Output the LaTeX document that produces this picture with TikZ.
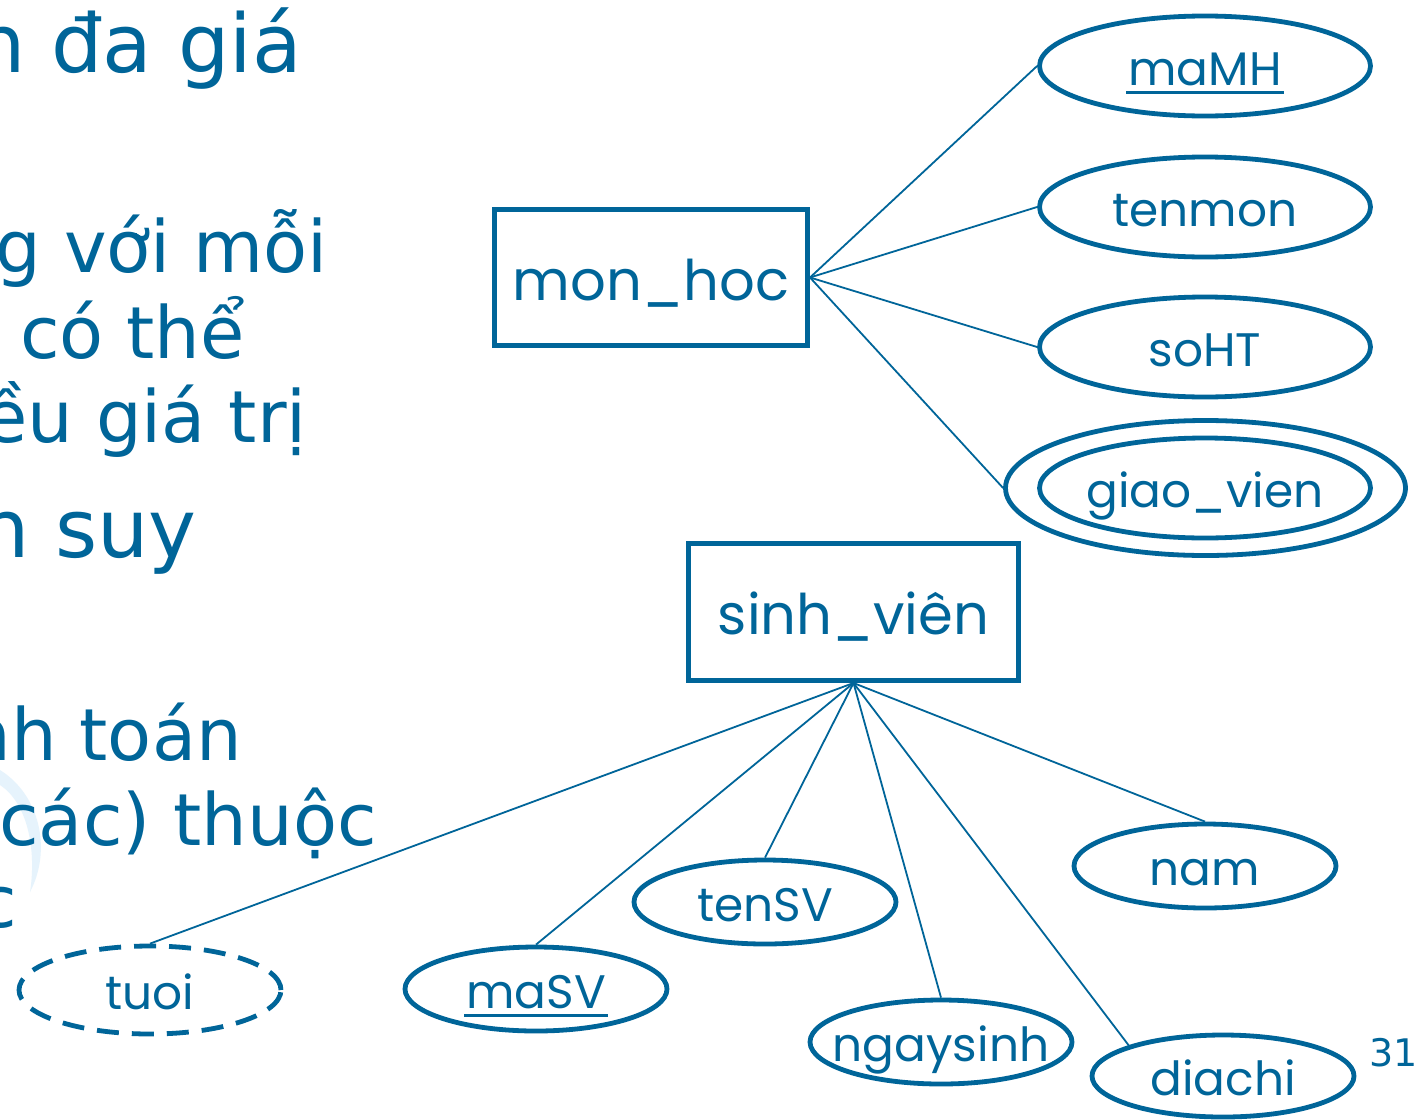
\documentclass[tikz,border=0pt]{standalone}
\usepackage{fontspec}
\setmainfont{DejaVu Sans}
\newfontfamily\geo{Poppins}
\usetikzlibrary{shapes.geometric}
\definecolor{ub}{RGB}{0,101,153}
\definecolor{arcb}{RGB}{230,243,252}
\newcommand\ulx[1]{\setbox0=\hbox{#1}\rlap{\kern-2pt\rule[-8.5pt]{\dimexpr\wd0+4pt\relax}{2.6pt}}\box0}
\newcommand\lb[1]{\makebox[0pt]{#1}}
\tikzset{
 ent/.style={draw=ub, line width=5pt, minimum width=313pt, minimum height=136pt, inner sep=0pt,
   font=\geo\fontsize{56}{56}\selectfont, text=ub, text height=45pt, text depth=0pt},
 attr/.style={ellipse, draw=ub, line width=4.8pt, inner sep=0pt,
   font=\geo\fontsize{47}{47}\selectfont, text=ub, text height=38pt, text depth=0pt},
 bigattr/.style={attr, minimum width=331pt, minimum height=100pt},
 smallattr/.style={attr, minimum width=262pt, minimum height=84pt},
 conn/.style={draw=ub, line width=1.8pt},
 side/.style={font=\fontsize{72}{86}\selectfont, text=ub, anchor=base east, inner sep=0pt},
 sidebig/.style={side, font=\fontsize{81}{90}\selectfont},
}
\begin{document}
\begin{tikzpicture}[x=1pt,y=-1pt]
\clip (0,0) rectangle (1420,1119);
\fill[white] (0,0) rectangle (1420,1119);
% faint decorative arc
\fill[arcb] (0,770) .. controls (40,795) and (52,850) .. (30,892) .. controls (36,855) and (30,805) .. (0,785) -- cycle;
% clipped slide text on the left
\node[sidebig] (t1) at (302,72) {n đa giá};
\node[side] (t2) at (328,272) {g với mỗi};
\node[side] (t3) at (245,358) {có thể};
\node[side] (t4) at (307,442) {ều giá trị};
\node[sidebig] (t5) at (197,557) {n suy};
\node[side] (t6) at (242,760) {nh toán};
\node[side] (t7) at (377,845) {(các) thuộc};
\node[side] (t8) at (17,927) {c};
% entities
\node[ent] (mh) at (651,277.5) {mon\_hoc};
\node[ent, minimum width=330pt, minimum height=137pt] (sv) at (853.5,612) {sinh\_viên};
% attributes of mon_hoc
\node[bigattr] (mamh) at (1205,66) {\lb{\ulx{maMH}}};
\node[bigattr] (tenmon) at (1205,207) {\lb{tenmon}};
\node[bigattr] (soht) at (1205,347) {\lb{soHT}};
\node[bigattr] (gv) at (1205,488) {\lb{giao\_vien}};
\node[ellipse, draw=ub, line width=4.8pt, minimum width=400pt, minimum height=135pt, inner sep=0pt] (gvo) at (1205.5,488) {};
% attributes of sinh_vien
\node[smallattr] (nam) at (1205,866) {\lb{nam}};
\node[smallattr] (tensv) at (765,902) {\lb{tenSV}};
\node[smallattr] (masv) at (536,989) {\lb{\ulx{maSV}}};
\node[smallattr, dashed, dash pattern=on 22pt off 13pt, minimum height=88pt] (tuoi) at (150,990) {\lb{tuoi}};
\node[smallattr] (ngaysinh) at (941,1042) {\lb{ngaysinh}};
\node[smallattr, minimum height=82pt] (diachi) at (1223,1076) {\lb{diachi}};
% connectors
\draw[conn] (mh.east) -- (mamh.west);
\draw[conn] (mh.east) -- (tenmon.west);
\draw[conn] (mh.east) -- (soht.west);
\draw[conn] (mh.east) -- (gvo.west);
\draw[conn] (sv.south) -- (tuoi.north);
\draw[conn] (sv.south) -- (masv.north);
\draw[conn] (sv.south) -- (tensv.north);
\draw[conn] (sv.south) -- (ngaysinh.north);
\draw[conn] (sv.south) -- (diachi.north west);
\draw[conn] (sv.south) -- (nam.north);
% page number
\node[font=\fontsize{38}{38}\selectfont, text=ub, anchor=base east, inner sep=0pt] (pg) at (1418,1066) {31};
\end{tikzpicture}
\end{document}
